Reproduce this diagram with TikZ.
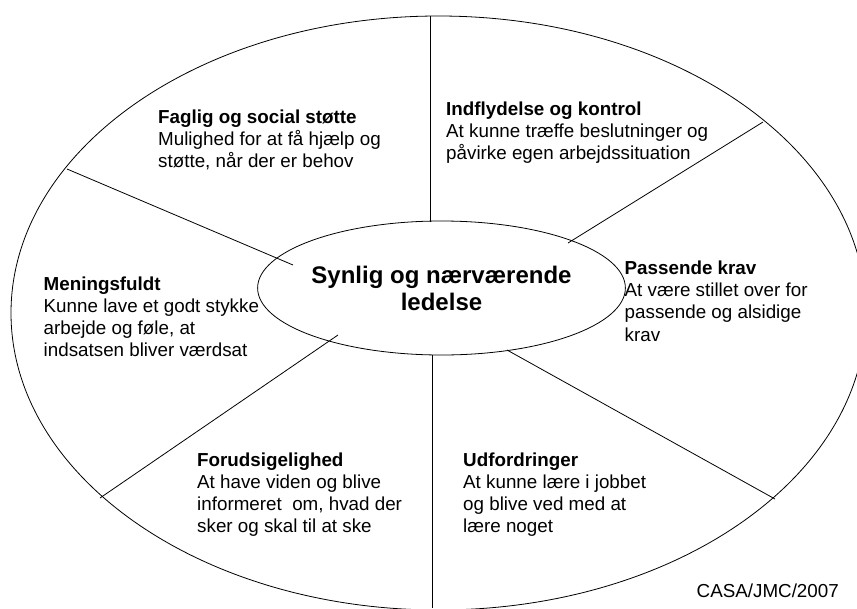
\documentclass[tikz,border=0pt]{standalone}
\usepackage{fontspec}
\setmainfont{Liberation Sans}
\usetikzlibrary{shapes.geometric}
\begin{document}
\begin{tikzpicture}[x=1pt,y=-1pt,
  spoke/.style={draw=black, line width=0.8pt},
  blocktext/.style={anchor=base west, inner sep=0pt, align=left, font=\fontsize{18.8}{22.2}\selectfont},
  hubstyle/.style={ellipse, draw=black, line width=0.8pt, minimum width=313pt, minimum height=134pt, inner sep=0pt, align=center, font=\bfseries\fontsize{24}{27}\selectfont}]
\useasboundingbox (0,0) rectangle (857,608);
\begin{scope}
  \clip (0,0) rectangle (857,608);
  \draw[spoke] (438.5,313) ellipse [x radius=427.5pt, y radius=297pt];
\end{scope}

\node[hubstyle] (hub) at (441.5,288) {Synlig og nærværende\\ledelse};

% spoke ends
\coordinate (i1) at (430,221.5);
\coordinate (o1) at (430,16);
\coordinate (i2) at (568,243);
\coordinate (o2) at (763,122);
\coordinate (i3) at (507,350);
\coordinate (o3) at (775,499);
\coordinate (i4) at (432,355);
\coordinate (o4) at (432,608);
\coordinate (i5) at (338,335);
\coordinate (o5) at (100,498);
\coordinate (i6) at (293,265);
\coordinate (o6) at (67,169);
\foreach \k in {1,...,6} {\draw[spoke] (i\k) -- (o\k);}

% anchors: baseline of the last line
\node[blocktext] (faglig) at (158,167.9) {\textbf{Faglig og social støtte}\\Mulighed for at få hjælp og\\støtte, når der er behov};
\node[blocktext] (indfl) at (446,159.4) {\textbf{Indflydelse og kontrol}\\At kunne træffe beslutninger og\\påvirke egen arbejdssituation};
\node[blocktext] (krav) at (624.5,341.1) {\textbf{Passende krav}\\At være stillet over for\\passende og alsidige\\krav};
\node[blocktext] (mening) at (43.5,356.6) {\textbf{Meningsfuldt}\\Kunne lave et godt stykke\\arbejde og føle, at\\indsatsen bliver værdsat};
\node[blocktext] (forud) at (197,532.6) {\textbf{Forudsigelighed}\\At have viden og blive\\informeret~ om, hvad der\\sker og skal til at ske};
\node[blocktext] (udf) at (463,532.6) {\textbf{Udfordringer}\\At kunne lære i jobbet\\og blive ved med at\\lære noget};
\node[anchor=base east, inner sep=0pt, font=\fontsize{18.8}{22.2}\selectfont] (casa) at (839,597) {CASA/JMC/2007};
\end{tikzpicture}
\end{document}
